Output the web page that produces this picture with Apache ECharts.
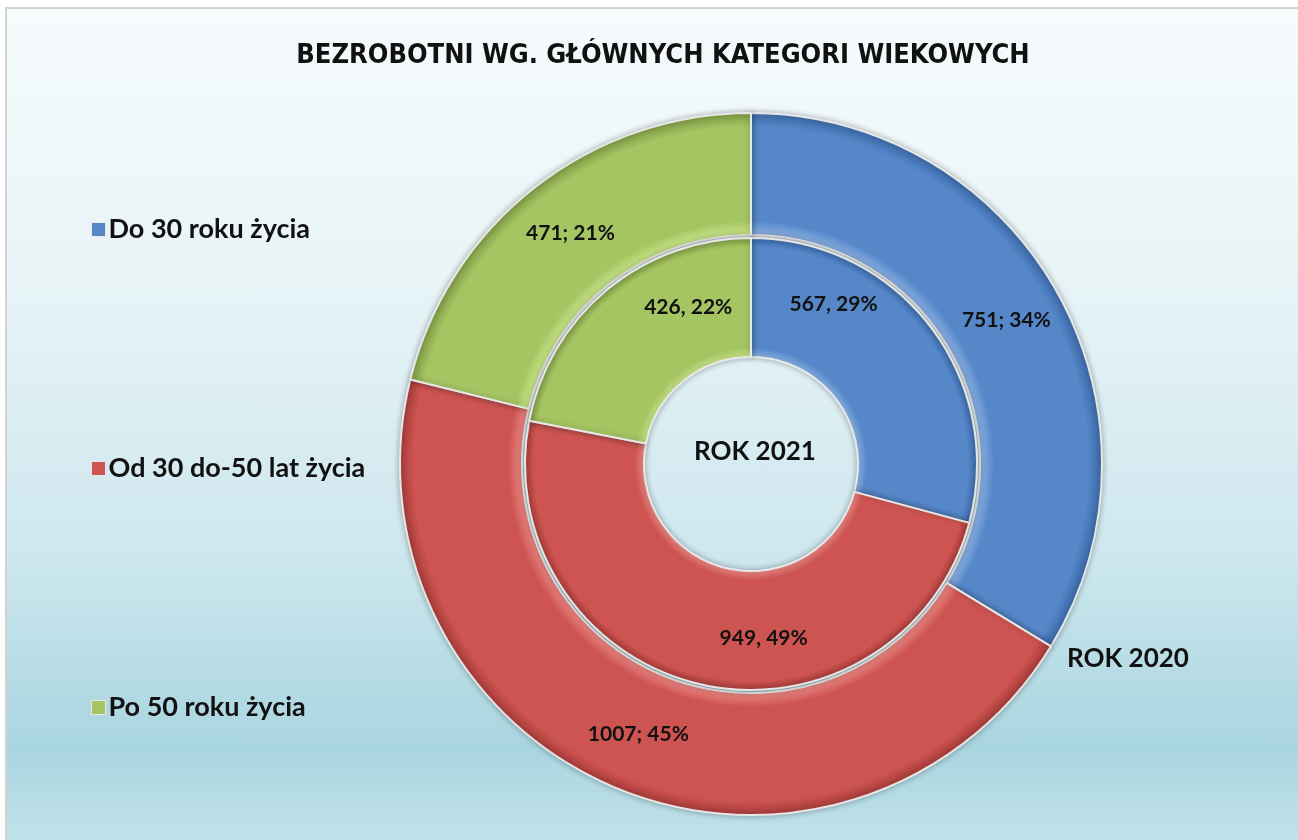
<!DOCTYPE html>
<html>
<head>
<meta charset="utf-8">
<script src="https://cdn.jsdelivr.net/npm/echarts@6/dist/echarts.min.js"></script>
<style>
    html, body { margin: 0; padding: 0; background: #ffffff; }
    #frame {
        position: absolute; left: 5px; top: 7px; width: 1300px; height: 840px;
        border-top: 2px solid #d2d2d2; border-left: 2px solid #d2d2d2;
        background: linear-gradient(to bottom, #f6fbfc 0%, #e6f3f6 35%, #cde7ee 65%, #a9d5e0 88%, #c3e3ea 100%);
    }
    #chart { position: absolute; left: 0; top: 0; width: 1298px; height: 840px; }
</style>
</head>
<body>
<div id="frame"></div>
<div id="chart"></div>
<script>
var categories = ['Do 30 roku życia', 'Od 30 do-50 lat życia', 'Po 50 roku życia'];
var values2020 = [751, 1007, 471];
var values2021 = [567, 949, 426];
var ringNames = ['ROK 2020', 'ROK 2021'];

var colors = ['#5587c9', '#cd5451', '#a5c563'];
var lightColors = ['#8fb4e6', '#ec8a86', '#cbe88c'];
var darkColors = ['#3c6aa8', '#a83c3a', '#7f9c45'];
// inner labels were moved by hand in the original
var innerLabelShift = [[-52, -57], [51, 9], [45, -26]];

var cx = 751, cy = 464;
var outerR = [229, 351];
var innerR = [107, 226];

var labelFont = {
    color: '#111',
    fontFamily: 'Lato',
    fontWeight: 'bold',
    fontSize: 21
};

// bevel-ish look: radial gradient around the pie centre
function ringColor(i, r) {
    var a = r[0] / r[1];
    return {
        type: 'radial', x: cx, y: cy, r: r[1], global: true,
        colorStops: [
            { offset: 0, color: colors[i] },
            { offset: a, color: lightColors[i] },
            { offset: a + 0.04, color: colors[i] },
            { offset: 0.96, color: colors[i] },
            { offset: 1, color: darkColors[i] }
        ]
    };
}

function toData(vals, r) {
    var out = [];
    for (var i = 0; i < vals.length; i++) {
        out.push({ name: categories[i], value: vals[i], itemStyle: { color: ringColor(i, r) } });
    }
    return out;
}

var legendData = [];
for (var i = 0; i < categories.length; i++) {
    legendData.push({ name: categories[i], itemStyle: { color: colors[i], borderColor: '#e8e8e8', borderWidth: 1 } });
}

var mychart = echarts.init(document.getElementById('chart'));
mychart.setOption({
    animation: false,
    title: {
        text: 'BEZROBOTNI WG. GŁÓWNYCH KATEGORI WIEKOWYCH',
        left: 658,
        textAlign: 'center',
        top: 37,
        textStyle: {
            fontFamily: 'Liberation Sans Narrow, DejaVu Sans Condensed, sans-serif',
            fontWeight: 'bold',
            fontSize: 27,
            color: '#111'
        }
    },
    legend: {
        orient: 'vertical',
        left: 86,
        top: 211,
        itemGap: 212,
        itemWidth: 14,
        itemHeight: 14,
        icon: 'rect',
        data: legendData,
        textStyle: {
            fontFamily: 'Lato',
            fontWeight: 'bold',
            fontSize: 27,
            color: '#111',
            padding: [0, 0, 0, -2]
        }
    },
    graphic: [
        {
            type: 'text', left: 694, top: 439,
            style: { text: ringNames[1], fontFamily: 'Lato', fontWeight: 'bold', fontSize: 26, fill: '#111' }
        },
        {
            type: 'text', left: 1067, top: 646,
            style: { text: ringNames[0], fontFamily: 'Lato', fontWeight: 'bold', fontSize: 26, fill: '#111' }
        }
    ],
    series: [
        {
            name: ringNames[0],
            type: 'pie',
            center: [cx, cy],
            radius: outerR,
            startAngle: 90,
            percentPrecision: 0,
            label: Object.assign({
                show: true,
                position: 'inside',
                formatter: '{c}; {d}%'
            }, labelFont),
            labelLine: { show: false },
            itemStyle: {
                borderColor: 'rgba(235,235,235,0.95)',
                borderWidth: 2,
                shadowBlur: 6,
                shadowColor: 'rgba(0,0,0,0.3)'
            },
            data: toData(values2020, outerR)
        },
        {
            name: ringNames[1],
            type: 'pie',
            center: [cx, cy],
            radius: innerR,
            startAngle: 90,
            percentPrecision: 0,
            label: Object.assign({
                show: true,
                position: 'inside',
                formatter: '{c}, {d}%'
            }, labelFont),
            labelLine: { show: false },
            labelLayout: function (p) {
                var s = innerLabelShift[p.dataIndex];
                return { dx: s[0], dy: s[1] };
            },
            itemStyle: {
                borderColor: 'rgba(235,235,235,0.95)',
                borderWidth: 2,
                shadowBlur: 6,
                shadowColor: 'rgba(0,0,0,0.3)'
            },
            data: toData(values2021, innerR)
        }
    ]
});
</script>
</body>
</html>
